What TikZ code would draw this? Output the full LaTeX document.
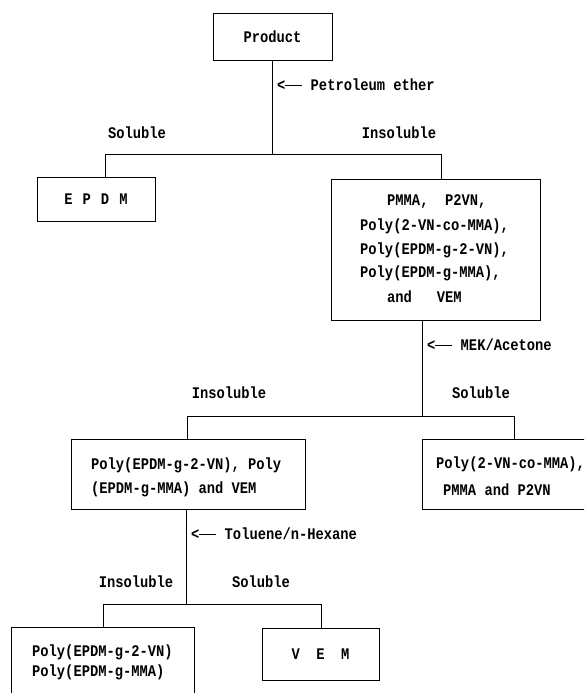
\documentclass[tikz,border=0pt]{standalone}
\usepackage{fontspec}
\setmonofont[FakeStretch=0.85]{Liberation Mono}
\newcommand{\solv}{<\rule[4.5pt]{17pt}{0.8pt}}
\begin{document}
\begin{tikzpicture}[x=1pt,y=-1pt,
  font=\ttfamily\bfseries\fontsize{16.2}{18}\selectfont,
  box/.style={draw, line width=0.9pt, rectangle, inner sep=0pt},
  conn/.style={line width=0.9pt},
  lbl/.style={inner sep=0pt}]
\clip (0,0) rectangle (584,693);
\fill[white] (0,0) rectangle (584,693);
% boxes
\node[box, minimum width=119pt, minimum height=47pt] (prod) at (272.5,36.5) {Product};
\node[box, minimum width=118pt, minimum height=44pt] (epdm) at (96,199) {E\hspace{10pt}P\hspace{10pt}D\hspace{10pt}M};
\node[box, minimum width=209pt, minimum height=141pt] (big) at (435.5,249.5) {};
\node[box, minimum width=234pt, minimum height=70pt] (mid) at (188,474) {};
\node[box, minimum width=240pt, minimum height=70pt] (sol) at (542,474) {};
\node[box, minimum width=183pt, minimum height=100pt] (bl) at (102.5,677) {};
\node[box, minimum width=117pt, minimum height=52pt] (vem) at (320.5,654) {V\ \ E\ \ M};
% box texts
\node[lbl, anchor=west] (b1) at (387,202) {PMMA,\ \ P2VN,};
\node[lbl, anchor=west] (b2) at (360,226) {Poly(2-VN-co-MMA),};
\node[lbl, anchor=west] (b3) at (360,250) {Poly(EPDM-g-2-VN),};
\node[lbl, anchor=west] (b4) at (360,273) {Poly(EPDM-g-MMA),};
\node[lbl, anchor=west] (b5) at (387,297) {and\ \ \ VEM};
\node[lbl, anchor=west] (m1) at (91,465) {Poly(EPDM-g-2-VN), Poly};
\node[lbl, anchor=west] (m2) at (91,489) {(EPDM-g-MMA) and VEM};
\node[lbl, anchor=west] (s1) at (436,464) {Poly(2-VN-co-MMA),};
\node[lbl, anchor=west] (s2) at (443,490) {PMMA and P2VN};
\node[lbl, anchor=west] (l1) at (32,652) {Poly(EPDM-g-2-VN)};
\node[lbl, anchor=west] (l2) at (32,672) {Poly(EPDM-g-MMA)};
% labels
\node[lbl, anchor=west] (pe) at (277,85) {\solv\ Petroleum ether};
\node[lbl] (sa) at (137,133) {Soluble};
\node[lbl] (ia) at (399,133) {Insoluble};
\node[lbl, anchor=west] (mek) at (427,345) {\solv\ MEK/Acetone};
\node[lbl] (ib) at (229,393) {Insoluble};
\node[lbl] (sb) at (481,393) {Soluble};
\node[lbl, anchor=west] (tol) at (191,534) {\solv\ Toluene/n-Hexane};
\node[lbl] (ic) at (136,582) {Insoluble};
\node[lbl] (sc) at (261,582) {Soluble};
% junctions
\coordinate (j1) at (272.5,154);
\coordinate (j1l) at (105,154);
\coordinate (j1r) at (441,154);
\coordinate (j2) at (422.5,416);
\coordinate (j2l) at (187,416);
\coordinate (j2r) at (514,416);
\coordinate (j3) at (186,604);
\coordinate (j3l) at (103,604);
\coordinate (j3r) at (321,604);
% connectors
\draw[conn] (prod.south -| j1) -- (j1);
\draw[conn] (j1l |- epdm.north) -- (j1l) -- (j1r) -- (j1r |- big.north);
\draw[conn] (big.south -| j2) -- (j2);
\draw[conn] (j2l |- mid.north) -- (j2l) -- (j2r) -- (j2r |- sol.north);
\draw[conn] (mid.south -| j3) -- (j3);
\draw[conn] (j3l |- bl.north) -- (j3l) -- (j3r) -- (j3r |- vem.north);
\end{tikzpicture}
\end{document}
